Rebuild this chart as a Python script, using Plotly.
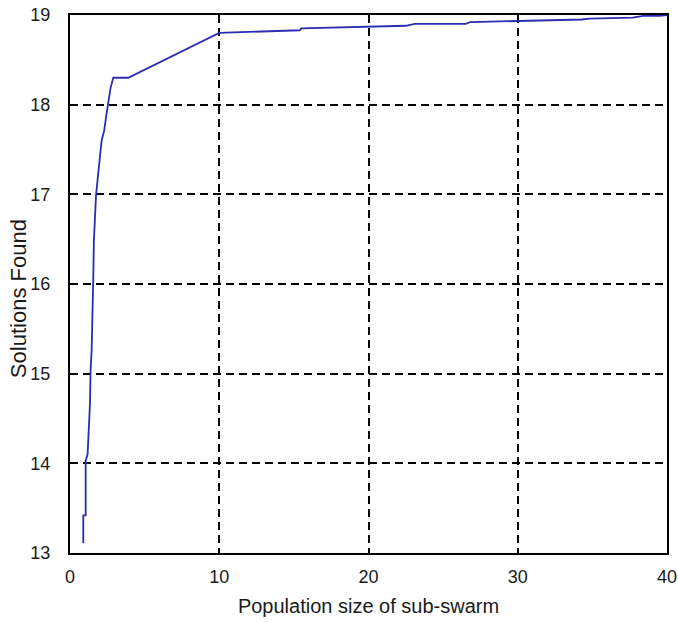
import plotly.graph_objects as go

# Traced curve (population size of sub-swarm vs solutions found)
pop_size = [0.89, 0.89, 1.05, 1.05, 1.18, 1.34, 1.38, 1.45, 1.56, 1.60, 1.74, 1.83, 1.89,
            2.12, 2.29, 2.45, 2.56, 2.72, 2.90, 3.90, 10.0, 11.8, 15.4, 15.5, 19.3, 22.5,
            23.1, 26.5, 26.8, 29.9, 30.5, 34.3, 34.8, 37.7, 38.4, 39.5, 40.0]
solutions = [13.11, 13.42, 13.42, 14.03, 14.10, 14.67, 15.04, 15.26, 16.07, 16.48, 16.98, 17.15, 17.23,
             17.60, 17.71, 17.90, 18.01, 18.19, 18.30, 18.30, 18.80, 18.81, 18.83, 18.85, 18.87, 18.88,
             18.90, 18.90, 18.92, 18.93, 18.94, 18.95, 18.96, 18.97, 18.99, 18.99, 19.0]

x_ticks = [0, 10, 20, 30, 40]
y_ticks = [13, 14, 15, 16, 17, 18, 19]

fig = go.Figure()
fig.add_trace(go.Scatter(x=pop_size, y=solutions, mode="lines",
                         line=dict(color="#2c2cb0", width=1.8), showlegend=False))

tick_font = dict(family="Liberation Sans, Arial, sans-serif", size=18, color="#1a1a1a")
title_font = dict(family="Liberation Sans, Arial, sans-serif", size=20, color="#1a1a1a")
ytitle_font = dict(family="Liberation Sans, Arial, sans-serif", size=22, color="#1a1a1a")
fig.update_layout(
    width=678, height=622,
    margin=dict(l=70, r=11, t=15, b=69),
    paper_bgcolor="white", plot_bgcolor="white",
    font=tick_font,
)
fig.update_xaxes(range=[0, 40], tickvals=x_ticks, showgrid=True, gridcolor="black",
                 gridwidth=2, griddash="8px,5px", showline=True, linecolor="black",
                 linewidth=2, mirror=True, ticks="inside", ticklen=4, tickwidth=2,
                 tickcolor="black", ticklabelstandoff=6, zeroline=False, automargin=False,
                 ticklabeloverflow="allow", tickfont=tick_font,
                 title=dict(text="Population size of sub-swarm", standoff=13, font=title_font))
fig.update_yaxes(range=[13, 19], tickvals=y_ticks, showgrid=True, gridcolor="black",
                 gridwidth=2, griddash="8px,5px", showline=True, linecolor="black",
                 linewidth=2, mirror=True, ticks="inside", ticklen=4, tickwidth=2,
                 tickcolor="black", ticklabelstandoff=14, zeroline=False, automargin=False,
                 ticklabeloverflow="allow", tickfont=tick_font)
fig.add_annotation(text="Solutions Found", xref="paper", yref="paper",
                   x=-0.087, y=0.472, xanchor="center", yanchor="middle",
                   textangle=-90, showarrow=False, font=ytitle_font)

# remove the page's default 8px body margin so the figure fills the window exactly
fig.write_html("out.html", config={"displayModeBar": False},
               post_script="document.body.style.margin='0';document.body.style.overflow='hidden';")
